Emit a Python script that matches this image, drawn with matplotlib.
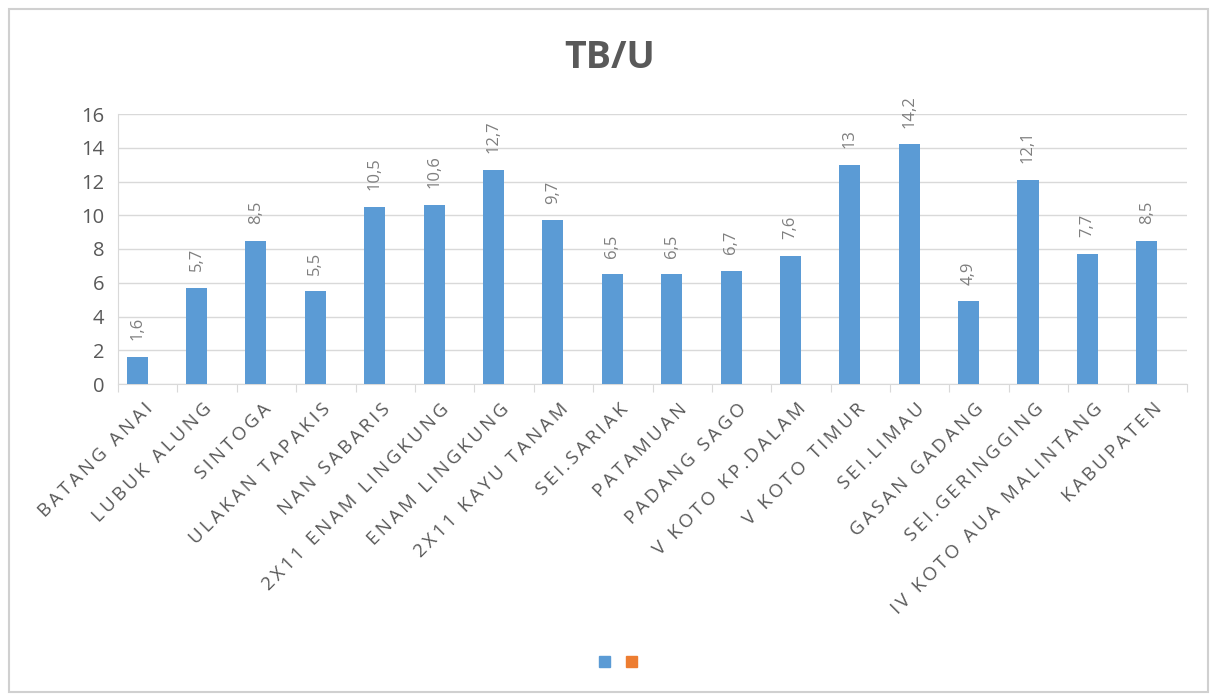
import matplotlib.pyplot as plt
from matplotlib.patches import Patch, Rectangle
from matplotlib.transforms import ScaledTranslation

kecamatan = ['BATANG ANAI', 'LUBUK ALUNG', 'SINTOGA', 'ULAKAN TAPAKIS', 'NAN SABARIS',
             '2X11 ENAM LINGKUNG', 'ENAM LINGKUNG', '2X11 KAYU TANAM', 'SEI.SARIAK',
             'PATAMUAN', 'PADANG SAGO', 'V KOTO KP.DALAM', 'V KOTO TIMUR', 'SEI.LIMAU',
             'GASAN GADANG', 'SEI.GERINGGING', 'IV KOTO AUA MALINTANG', 'KABUPATEN']
tbu = [1.6, 5.7, 8.5, 5.5, 10.5, 10.6, 12.7, 9.7, 6.5, 6.5, 6.7, 7.6, 13, 14.2, 4.9, 12.1, 7.7, 8.5]
label_tbu = ['1,6', '5,7', '8,5', '5,5', '10,5', '10,6', '12,7', '9,7', '6,5', '6,5', '6,7',
             '7,6', '13', '14,2', '4,9', '12,1', '7,7', '8,5']
seri2 = [0] * len(kecamatan)  # seri kedua kosong

biru = '#5B9BD5'
oranye = '#ED7D31'
abu = '#595959'
plt.rcParams['font.family'] = ['Open Sans', 'DejaVu Sans']


def renggang(teks):
    # jarak antar huruf dibuat lebih lebar
    return '\u2009'.join(teks)


fig = plt.figure(figsize=(12.19, 6.95), dpi=100)
fig.patches.append(Rectangle((9 / 1219, 3 / 695), 1199 / 1219, 683 / 695, transform=fig.transFigure,
                             fill=False, edgecolor='#D0D0D0', linewidth=1.5))
ax = fig.add_axes([118 / 1219, 1 - 384 / 695, (1187 - 118) / 1219, (384 - 114) / 695])

x = list(range(len(kecamatan)))
w = 0.355
ax.bar([i - w / 2 for i in x], tbu, width=w, color=biru, zorder=3)
ax.bar([i + w / 2 for i in x], seri2, width=w, color=oranye, linewidth=0, zorder=3)

for i, v, t in zip(x, tbu, label_tbu):
    ax.annotate(t, (i - w / 2, v), xytext=(0, 12), textcoords='offset points', rotation=90,
                ha='center', va='bottom', fontsize=12, color='#7F7F7F')

ax.set_ylim(0, 16)
ax.set_xlim(-0.5, len(kecamatan) - 0.5)
ax.set_yticks(range(0, 17, 2))
ax.tick_params(axis='y', length=0, labelsize=14.5, labelcolor=abu, pad=10)
ax.yaxis.grid(True, color='#D9D9D9', linewidth=1)
ax.set_axisbelow(True)

ax.set_xticks([i - 0.5 for i in range(len(kecamatan) + 1)])
ax.set_xticklabels([])
ax.set_xticks(x, minor=True)
ax.set_xticklabels([renggang(k) for k in kecamatan], minor=True, rotation=45, ha='right',
                   va='center', rotation_mode='anchor', fontsize=13.5, color=abu)
ax.tick_params(axis='x', which='major', length=6, color='#D9D9D9', direction='out')
ax.tick_params(axis='x', which='minor', length=0, pad=16)
geser = ScaledTranslation(2 / 100, 0, fig.dpi_scale_trans)
for lbl in ax.get_xticklabels(minor=True):
    lbl.set_transform(lbl.get_transform() + geser)

for s in ['top', 'right']:
    ax.spines[s].set_visible(False)
ax.spines['left'].set_color('#D9D9D9')
ax.spines['bottom'].set_color('#D9D9D9')

fig.text(610 / 1219, 1 - 58 / 695, 'TB/U', ha='center', va='center', fontsize=27,
         fontweight='bold', color=abu)

fig.legend([Patch(color=biru), Patch(color=oranye)], ['', ''], loc='center',
           bbox_to_anchor=(618 / 1219, 1 - 663 / 695), ncol=2, frameon=False,
           handlelength=0.8, handleheight=0.8, handletextpad=0, columnspacing=1.2)

fig.savefig('out.png', dpi=100)
